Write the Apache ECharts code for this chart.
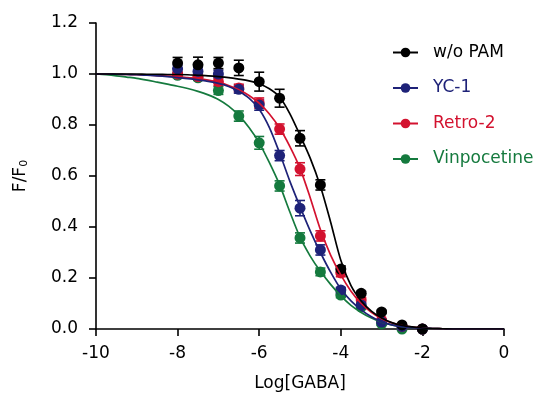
<!DOCTYPE html>
<html>
<head>
<meta charset="utf-8">
<script src="https://cdn.jsdelivr.net/npm/echarts@6/dist/echarts.min.js"></script>
<style>
  html, body { margin: 0; padding: 0; background: #fff; }
  #app { width: 541px; height: 397px; }
</style>
</head>
<body>
<div id="app"></div>
<script>
// measured log[GABA] doses
const doses = [-8, -7.5, -7, -6.5, -6, -5.5, -5, -4.5, -4, -3.5, -3, -2.5, -2];

// mean F/F0 per dose
const woPam = [1.043, 1.036, 1.043, 1.024, 0.97, 0.905, 0.748, 0.565, 0.235, 0.14, 0.067, 0.016, 0.0];
const yc1 = [1.02, 1.01, 1.0, 0.94, 0.878, 0.68, 0.474, 0.31, 0.153, 0.094, 0.027, 0.01, 0.0];
const retro2 = [1.0, 0.99, 0.97, 0.945, 0.886, 0.784, 0.627, 0.365, 0.22, 0.114, 0.035, 0.01, 0.0];
const vinpo = [0.995, 0.985, 0.935, 0.835, 0.73, 0.561, 0.357, 0.224, 0.133, 0.086, 0.02, 0.0, 0.0];

// error bar half-heights
const woPamErr = [0.022, 0.03, 0.022, 0.03, 0.037, 0.035, 0.03, 0.02, 0.012, 0.008, 0.006, 0.005, 0];
const yc1Err = [0.015, 0.015, 0.015, 0.015, 0.02, 0.02, 0.03, 0.02, 0.01, 0.008, 0.005, 0, 0];
const retro2Err = [0.01, 0.01, 0.015, 0.015, 0.02, 0.02, 0.025, 0.02, 0.015, 0.01, 0.005, 0, 0];
const vinpoErr = [0.01, 0.01, 0.015, 0.02, 0.025, 0.02, 0.02, 0.015, 0.01, 0.008, 0.005, 0, 0];

// fitted curves, sampled from the figure every 0.25 log unit
const fitX = [-10, -9.75, -9.5, -9.25, -9, -8.75, -8.5, -8.25, -8, -7.75, -7.5, -7.25, -7, -6.75, -6.5, -6.25,
  -6, -5.75, -5.5, -5.25, -5, -4.75, -4.5, -4.25, -4, -3.75, -3.5, -3.25, -3, -2.75, -2.5, -2.25,
  -2, -1.75, -1.5, -1.25, -1, -0.75, -0.5, -0.25, 0];
const woPamFit = [1, 1, 1, 1, 1, 0.999, 0.999, 0.998, 0.998, 0.997, 0.995, 0.993, 0.99, 0.986, 0.98, 0.973,
  0.962, 0.942, 0.91, 0.845, 0.76, 0.67, 0.56, 0.42, 0.27, 0.17, 0.11, 0.07, 0.043, 0.025, 0.014, 0.008,
  0.004, 0.002, 0.001, 0, 0, 0, 0, 0, 0];
const yc1Fit = [1, 1, 0.999, 0.998, 0.997, 0.995, 0.993, 0.99, 0.986, 0.982, 0.977, 0.971, 0.963, 0.951, 0.932, 0.905,
  0.862, 0.79, 0.69, 0.58, 0.48, 0.385, 0.3, 0.223, 0.157, 0.11, 0.075, 0.048, 0.028, 0.016, 0.009, 0.005,
  0.003, 0.002, 0.001, 0, 0, 0, 0, 0, 0];
const retro2Fit = [1, 1, 0.999, 0.998, 0.997, 0.996, 0.994, 0.992, 0.99, 0.986, 0.982, 0.976, 0.967, 0.955, 0.938, 0.916,
  0.886, 0.843, 0.788, 0.716, 0.63, 0.515, 0.39, 0.29, 0.212, 0.148, 0.1, 0.065, 0.04, 0.024, 0.013, 0.007,
  0.004, 0.002, 0.001, 0, 0, 0, 0, 0, 0];
const vinpoFit = [1, 0.997, 0.993, 0.988, 0.983, 0.976, 0.968, 0.96, 0.952, 0.943, 0.932, 0.918, 0.9, 0.874, 0.838, 0.79,
  0.73, 0.652, 0.565, 0.46, 0.36, 0.286, 0.226, 0.175, 0.13, 0.093, 0.065, 0.043, 0.027, 0.016, 0.009, 0.005,
  0.003, 0.002, 0.001, 0, 0, 0, 0, 0, 0];

const groups = [
  { name: "w/o PAM", color: "#000000", y: woPam, err: woPamErr, fit: woPamFit },
  { name: "YC-1", color: "#1e2278", y: yc1, err: yc1Err, fit: yc1Fit },
  { name: "Retro-2", color: "#d3122f", y: retro2, err: retro2Err, fit: retro2Fit },
  { name: "Vinpocetine", color: "#157a3e", y: vinpo, err: vinpoErr, fit: vinpoFit },
];

const font = "'DejaVu Sans', Verdana, sans-serif";
const fs = 17;

const errBarRender = (params, api) => {
  const x = api.value(0), y = api.value(1), e = api.value(2);
  const top = api.coord([x, y + e]);
  const bot = api.coord([x, y - e]);
  const half = 5;
  const style = { stroke: api.visual("color"), lineWidth: 1.6 };
  return {
    type: "group",
    children: [
      { type: "line", shape: { x1: top[0], y1: top[1], x2: bot[0], y2: bot[1] }, style },
      { type: "line", shape: { x1: top[0] - half, y1: top[1], x2: top[0] + half, y2: top[1] }, style },
      { type: "line", shape: { x1: bot[0] - half, y1: bot[1], x2: bot[0] + half, y2: bot[1] }, style },
    ],
  };
};

const series = [];
// draw from the bottom up: green first, black last
groups.slice().reverse().forEach((g) => {
  series.push({
    type: "line",
    name: g.name,
    data: fitX.map((x, i) => [x, g.fit[i]]),
    smooth: 0.3,
    symbol: "circle",
    symbolSize: 10,
    showSymbol: false,
    color: g.color,
    lineStyle: { color: g.color, width: 1.7 },
    silent: true,
  });
  series.push({
    type: "custom",
    name: g.name + " err",
    renderItem: errBarRender,
    data: doses.map((x, i) => [x, g.y[i], g.err[i]]),
    itemStyle: { color: g.color },
    silent: true,
  });
  series.push({
    type: "scatter",
    name: g.name + " pts",
    data: doses.map((x, i) => [x, g.y[i]]),
    symbol: "circle",
    symbolSize: 11,
    itemStyle: { color: g.color, opacity: 1 },
    silent: true,
  });
});

const chart = echarts.init(document.getElementById("app"), null, { renderer: "canvas" });
chart.setOption({
  animation: false,
  backgroundColor: "#ffffff",
  textStyle: { fontFamily: font },
  grid: { left: 96, right: 37, top: 23, bottom: 68 },
  legend: {
    orient: "vertical",
    left: 387,
    top: 39,
    itemWidth: 25,
    itemHeight: 12,
    itemGap: 18.5,
    data: groups.map((g) => ({
      name: g.name,
      textStyle: { color: g.color, fontSize: fs, fontFamily: font, padding: [0, 0, 0, 10] },
    })),
    selectedMode: false,
  },
  xAxis: {
    type: "value",
    min: -10,
    max: 0,
    interval: 2,
    name: "Log[GABA]",
    nameLocation: "middle",
    nameGap: 46,
    nameTextStyle: { fontSize: fs, color: "#000", fontFamily: font },
    splitLine: { show: false },
    axisLine: { onZero: false, lineStyle: { color: "#000", width: 1.6 } },
    axisTick: { show: true, length: 7, lineStyle: { color: "#000", width: 1.6 } },
    axisLabel: { fontSize: fs, color: "#000", margin: 16, fontFamily: font },
  },
  yAxis: {
    type: "value",
    min: 0,
    max: 1.2,
    interval: 0.2,
    name: "F/F{sub|0}",
    nameLocation: "middle",
    nameGap: 66,
    nameRotate: 90,
    nameTextStyle: {
      fontSize: fs,
      color: "#000",
      fontFamily: font,
      rich: { sub: { fontSize: 11, verticalAlign: "bottom", padding: [7, 0, 0, 0], fontFamily: font, color: "#000" } },
    },
    splitLine: { show: false },
    axisLine: { onZero: false, lineStyle: { color: "#000", width: 1.6 } },
    axisTick: { show: true, length: 7, lineStyle: { color: "#000", width: 1.6 } },
    axisLabel: {
      fontSize: fs,
      color: "#000",
      margin: 18,
      fontFamily: font,
      formatter: (v) => v.toFixed(1),
    },
  },
  series: series,
});
</script>
</body>
</html>
